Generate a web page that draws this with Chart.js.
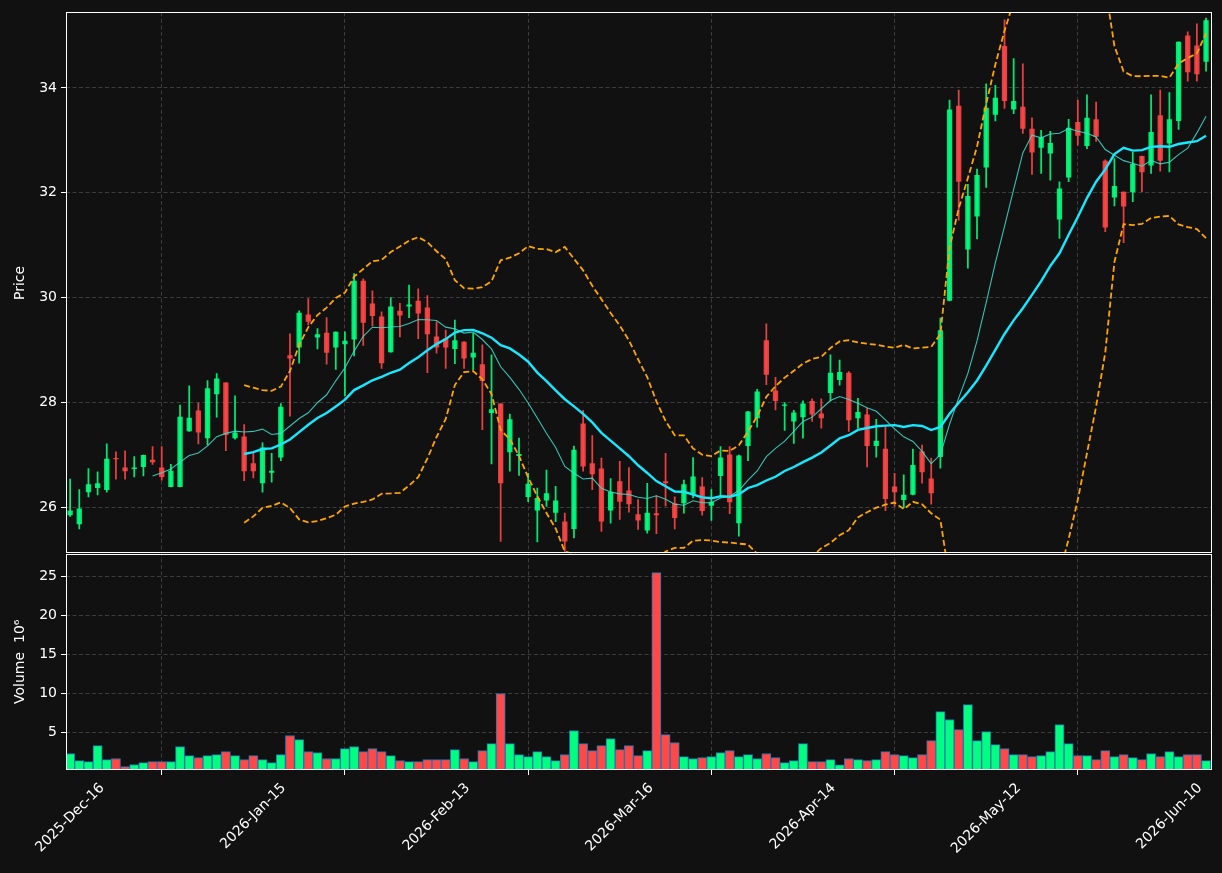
<!DOCTYPE html>
<html>
<head>
<meta charset="utf-8">
<script src="https://cdn.jsdelivr.net/npm/chart.js@4.4.1/dist/chart.umd.min.js"></script>
<style>
  html, body { margin: 0; padding: 0; background: #111111; }
  #wrap { width: 1222px; height: 873px; position: relative; }
</style>
</head>
<body>
<div id="wrap"><canvas id="c"></canvas></div>
<script>
// ---- Data ----
const tickIndex  = [0, 20, 40, 60, 80, 100, 120];
const tickLabels = ['2025-Dec-16','2026-Jan-15','2026-Feb-13','2026-Mar-16','2026-Apr-14','2026-May-12','2026-Jun-10'];

const openP = [25.85,25.68,26.29,26.37,26.33,26.94,26.76,26.73,26.77,26.91,26.76,26.39,26.39,27.45,27.85,27.32,28.16,28.38,27.32,27.35,
  26.84,26.46,26.66,26.95,28.90,29.05,29.68,29.24,29.33,29.05,29.11,29.20,30.32,29.89,29.64,28.96,29.75,29.83,29.94,29.81,
  29.26,29.22,29.02,29.16,28.86,28.73,27.80,27.98,27.05,26.98,26.20,25.94,26.13,25.90,25.73,25.59,27.60,26.84,26.74,25.94,
  26.50,26.32,25.87,25.56,25.89,26.50,26.08,26.08,26.25,26.40,26.03,26.60,27.01,25.70,27.17,27.70,29.19,28.23,27.94,27.64,
  27.72,28.03,27.79,28.18,28.43,28.57,27.70,27.77,27.17,27.12,26.40,26.14,26.24,27.07,26.55,26.96,29.94,33.66,30.92,31.55,
  32.48,33.49,34.80,33.59,33.64,33.22,32.86,32.75,31.49,32.29,33.35,32.89,33.40,32.61,31.91,32.02,32.01,32.70,32.52,33.48,
  32.94,33.37,35.00,34.81,34.50];
const highP = [26.54,26.34,26.74,26.68,27.21,27.06,27.08,26.97,27.00,27.16,27.16,26.82,27.95,28.32,27.99,28.42,28.55,28.38,28.13,27.58,
  27.05,27.23,27.03,27.98,29.31,29.75,29.98,29.41,29.62,29.35,29.35,30.46,30.36,30.13,29.73,30.00,29.89,30.24,30.17,30.04,
  29.54,29.38,29.57,29.16,29.32,29.10,28.91,27.98,27.78,27.32,26.65,26.37,26.71,26.40,25.89,27.17,27.85,27.37,26.94,26.55,
  26.88,26.76,26.15,26.46,26.22,27.03,26.20,26.52,26.95,26.57,26.34,27.16,27.16,27.00,27.83,28.25,29.50,28.48,28.00,27.85,
  28.03,28.07,28.07,28.91,28.81,28.59,28.08,27.89,27.68,27.54,26.65,26.62,27.11,27.19,26.94,29.61,33.77,33.96,32.16,32.45,
  34.08,34.05,35.30,34.56,34.46,33.43,33.19,33.17,32.21,33.40,33.77,33.87,33.73,32.63,32.65,32.02,32.77,32.70,33.87,33.96,
  33.91,34.88,35.07,35.22,35.33];
const lowP = [25.83,25.59,26.20,26.24,26.29,26.54,26.54,26.58,26.60,26.82,26.52,26.39,26.39,27.45,27.21,27.19,27.72,27.08,27.30,26.51,
  26.56,26.29,26.48,26.89,27.74,28.75,29.48,29.02,28.73,28.63,28.13,28.89,29.09,29.46,28.65,28.96,29.25,29.62,29.22,28.57,
  28.94,28.65,28.74,28.65,28.62,27.48,26.83,25.35,26.69,26.61,26.11,25.34,26.02,25.73,25.16,25.42,26.69,26.34,25.54,25.70,
  25.77,25.91,25.58,25.51,25.50,26.03,25.59,25.89,26.18,25.85,25.75,26.24,25.88,25.45,26.89,27.53,28.34,27.86,27.47,27.22,
  27.32,27.64,27.51,28.03,28.33,27.45,27.51,26.77,26.96,25.94,26.02,25.99,26.24,26.46,26.06,26.75,29.94,31.48,30.56,31.12,
  32.10,33.37,33.61,33.51,33.13,32.35,32.37,32.24,31.13,32.21,32.91,32.84,32.98,31.26,31.75,31.05,31.83,32.02,32.37,32.41,
  32.40,33.21,34.13,34.13,34.32];
const closeP = [25.94,25.98,26.44,26.46,26.93,26.92,26.69,26.76,27.00,26.86,26.58,26.70,27.73,27.71,27.43,28.27,28.46,27.38,27.43,26.69,
  26.69,27.14,26.70,27.92,28.84,29.71,29.54,29.30,28.95,29.35,29.18,30.32,29.52,29.65,28.75,29.83,29.66,29.87,29.70,29.30,
  29.05,29.05,29.19,28.84,28.95,28.41,27.87,26.46,27.68,27.02,26.45,26.18,26.27,26.13,25.35,27.10,26.78,26.63,25.73,26.30,
  26.11,26.06,25.75,25.90,25.85,26.46,25.80,26.44,26.59,25.93,26.11,26.95,26.10,26.99,27.83,28.21,28.53,28.03,27.96,27.81,
  27.98,27.77,27.70,28.57,28.58,27.66,27.82,27.17,27.27,26.16,26.29,26.24,26.81,26.67,26.27,29.38,33.59,32.21,31.94,32.34,
  33.62,33.81,33.75,33.75,33.22,32.77,33.06,32.95,32.08,33.24,33.09,33.43,33.07,31.34,32.13,31.74,32.55,32.39,33.16,32.61,
  33.40,34.88,34.30,34.26,35.29];
const volumeM = [2.31,1.41,1.28,3.33,1.54,1.67,0.64,0.90,1.15,1.28,1.28,1.28,3.21,2.05,1.79,2.05,2.18,2.56,2.05,1.54,
  2.05,1.54,1.15,2.18,4.62,4.10,2.56,2.44,1.67,1.67,2.95,3.21,2.56,2.95,2.56,2.05,1.41,1.28,1.28,1.54,
  1.54,1.54,2.82,1.67,1.28,2.69,3.59,10.0,3.59,2.18,1.92,2.56,1.92,1.41,2.18,5.26,3.59,2.69,3.33,4.23,
  2.82,3.33,2.05,2.69,25.5,4.74,3.72,1.92,1.67,1.79,1.92,2.44,2.69,1.92,2.18,1.67,2.31,1.79,1.15,1.41,
  3.59,1.28,1.28,1.54,0.85,1.67,1.54,1.41,1.54,2.56,2.18,2.05,1.79,2.18,3.97,7.69,6.67,5.38,8.59,3.97,
  5.13,3.46,2.95,2.18,2.18,1.92,2.05,2.56,6.03,3.59,2.05,2.05,1.54,2.69,1.92,2.18,1.79,1.54,2.31,1.92,
  2.56,1.92,2.18,2.18,1.41];

// ---- indicators derived from the closes (moving averages, Bollinger) ----
function rolling(arr, n, fn) {
  return arr.map((v, i) => i < n - 1 ? null : fn(arr.slice(i - n + 1, i + 1)));
}
const mean = a => a.reduce((s, v) => s + v, 0) / a.length;
const pstd = a => { const m = mean(a); return Math.sqrt(a.reduce((s, v) => s + (v - m) * (v - m), 0) / a.length); };
const ma10 = rolling(closeP, 10, mean);
const ma20 = rolling(closeP, 20, mean);
const sd20 = rolling(closeP, 20, pstd);
const bbUp = ma20.map((m, i) => m === null ? null : m + 2 * sd20[i]);
const bbLo = ma20.map((m, i) => m === null ? null : m - 2 * sd20[i]);

// ---- styling ----
const UP = 'rgba(0,255,128,0.9)', DOWN = 'rgba(255,70,70,0.9)';
const UPV = '#00ff80', DOWNV = '#ff4848';
const isUp = closeP.map((c, i) => c >= openP[i]);
const GRID = '#3c3c3c';
const FONT = { family: 'DejaVu Sans', size: 14 };

const pts = arr => arr.map((v, i) => ({ x: i, y: v }));
const idx = closeP.map((_, i) => i);

const panelPlugin = {
  id: 'panels',
  beforeDatasetDraw(chart, args) {
    const ds = chart.data.datasets[args.index];
    const ys = chart.scales[ds.yAxisID];
    const a = chart.chartArea, ctx = chart.ctx;
    ctx.save();
    ctx.beginPath();
    ctx.rect(a.left, ys.top, a.right - a.left, ys.bottom - ys.top);
    ctx.clip();
  },
  afterDatasetDraw(chart) { chart.ctx.restore(); },
  afterDraw(chart) {
    const a = chart.chartArea, ctx = chart.ctx;
    ctx.save();
    ctx.strokeStyle = '#ffffff';
    ctx.lineWidth = 1;
    ['y', 'yVol'].forEach(id => {
      const s = chart.scales[id];
      ctx.strokeRect(Math.round(a.left) + 0.5, Math.round(s.top) + 0.5,
                     Math.round(a.right - a.left) - 1, Math.round(s.bottom - s.top) - 1);
    });
    // x tick labels, rotated 45 deg and centred on the tick (matplotlib style)
    const xs = chart.scales.x;
    ctx.fillStyle = '#ffffff';
    ctx.font = FONT.size + 'px "' + FONT.family + '"';
    ctx.textAlign = 'center';
    ctx.textBaseline = 'middle';
    const y0 = a.bottom + 11;
    tickIndex.forEach((v, k) => {
      const txt = tickLabels[k];
      const w = ctx.measureText(txt).width, h = FONT.size;
      const half = (w + h) * Math.SQRT1_2 / 2;
      ctx.save();
      ctx.translate(xs.getPixelForValue(v), y0 + half);
      ctx.rotate(-Math.PI / 4);
      ctx.fillText(txt, 0, 0);
      ctx.restore();
    });
    ctx.restore();
  }
};

const tickCommon = { color: '#ffffff', font: FONT };
const gridCommon = { color: GRID, lineWidth: 1, tickColor: '#ffffff', tickLength: 5, tickBorderDash: [1, 0], tickWidth: 1 };
const borderCommon = { display: false, dash: [4, 2.5] };

new Chart(document.getElementById('c'), {
  type: 'bar',
  data: {
    datasets: [
      { type: 'line', label: 'MA10', data: pts(ma10), xAxisID: 'x', yAxisID: 'y', borderColor: 'rgba(64,224,208,0.85)', borderWidth: 1.1, pointRadius: 0, order: 0 },
      { type: 'line', label: 'MA20', data: pts(ma20), xAxisID: 'x', yAxisID: 'y', borderColor: '#16e8ff', borderWidth: 2.4, pointRadius: 0, order: 0 },
      { type: 'line', label: 'BB upper', data: pts(bbUp), xAxisID: 'x', yAxisID: 'y', borderColor: '#ffa500', borderWidth: 1.8, borderDash: [6, 3], pointRadius: 0, order: 0 },
      { type: 'line', label: 'BB lower', data: pts(bbLo), xAxisID: 'x', yAxisID: 'y', borderColor: '#ffa500', borderWidth: 1.8, borderDash: [6, 3], pointRadius: 0, order: 0 },
      { label: 'body', data: idx.map(i => ({ x: i, y: [openP[i], closeP[i]] })), xAxisID: 'x', yAxisID: 'y',
        backgroundColor: isUp.map(u => u ? UP : DOWN), borderWidth: 0, grouped: false,
        barPercentage: 0.58, categoryPercentage: 1, order: 2 },
      { label: 'wick', data: idx.map(i => ({ x: i, y: [lowP[i], highP[i]] })), xAxisID: 'x', yAxisID: 'y',
        backgroundColor: isUp.map(u => u ? UP : DOWN), borderWidth: 0, grouped: false,
        barThickness: 1.1, order: 3 },
      { label: 'Volume', data: idx.map(i => ({ x: i, y: volumeM[i] })), xAxisID: 'x', yAxisID: 'yVol',
        backgroundColor: isUp.map(u => u ? UPV : DOWNV), borderColor: '#1f77b4', borderWidth: 1, grouped: false,
        barPercentage: 1, categoryPercentage: 1, order: 4 }
    ]
  },
  options: {
    responsive: true,
    maintainAspectRatio: false,
    animation: false,
    layout: { padding: { top: 9, right: 10, left: 0, bottom: 0 } },
    plugins: { legend: { display: false }, tooltip: { enabled: false } },
    scales: {
      x: {
        type: 'linear', position: 'bottom', min: -0.45, max: 124.65, offset: false,
        afterBuildTicks: s => { s.ticks = tickIndex.map(v => ({ value: v })); },
        afterFit: s => { s.height = 103; },
        ticks: { display: false, autoSkip: false },
        grid: { ...gridCommon },
        border: { ...borderCommon }
      },
      yVol: {
        type: 'linear', position: 'left', stack: 'panels', stackWeight: 1, min: 0.2, max: 27.95, offset: false,
        afterBuildTicks: s => { s.ticks = [5, 10, 15, 20, 25].map(v => ({ value: v })); },
        afterFit: s => { s.width = 66; },
        ticks: { ...tickCommon, padding: 4, callback: v => String(v) },
        grid: { ...gridCommon },
        border: { ...borderCommon },
        title: { display: true, text: 'Volume  10\u2076', color: '#ffffff', font: FONT, padding: { top: 12, bottom: 0 } }
      },
      y: {
        type: 'linear', position: 'left', stack: 'panels', stackWeight: 2.5, min: 25.12, max: 35.44, offset: false,
        afterBuildTicks: s => { s.ticks = [26, 28, 30, 32, 34].map(v => ({ value: v })); },
        afterFit: s => { s.width = 66; },
        ticks: { ...tickCommon, padding: 4, callback: v => String(v) },
        grid: { ...gridCommon },
        border: { ...borderCommon },
        title: { display: true, text: 'Price', color: '#ffffff', font: FONT, padding: { top: 12, bottom: 0 } }
      }
    }
  },
  plugins: [panelPlugin]
});
</script>
</body>
</html>
